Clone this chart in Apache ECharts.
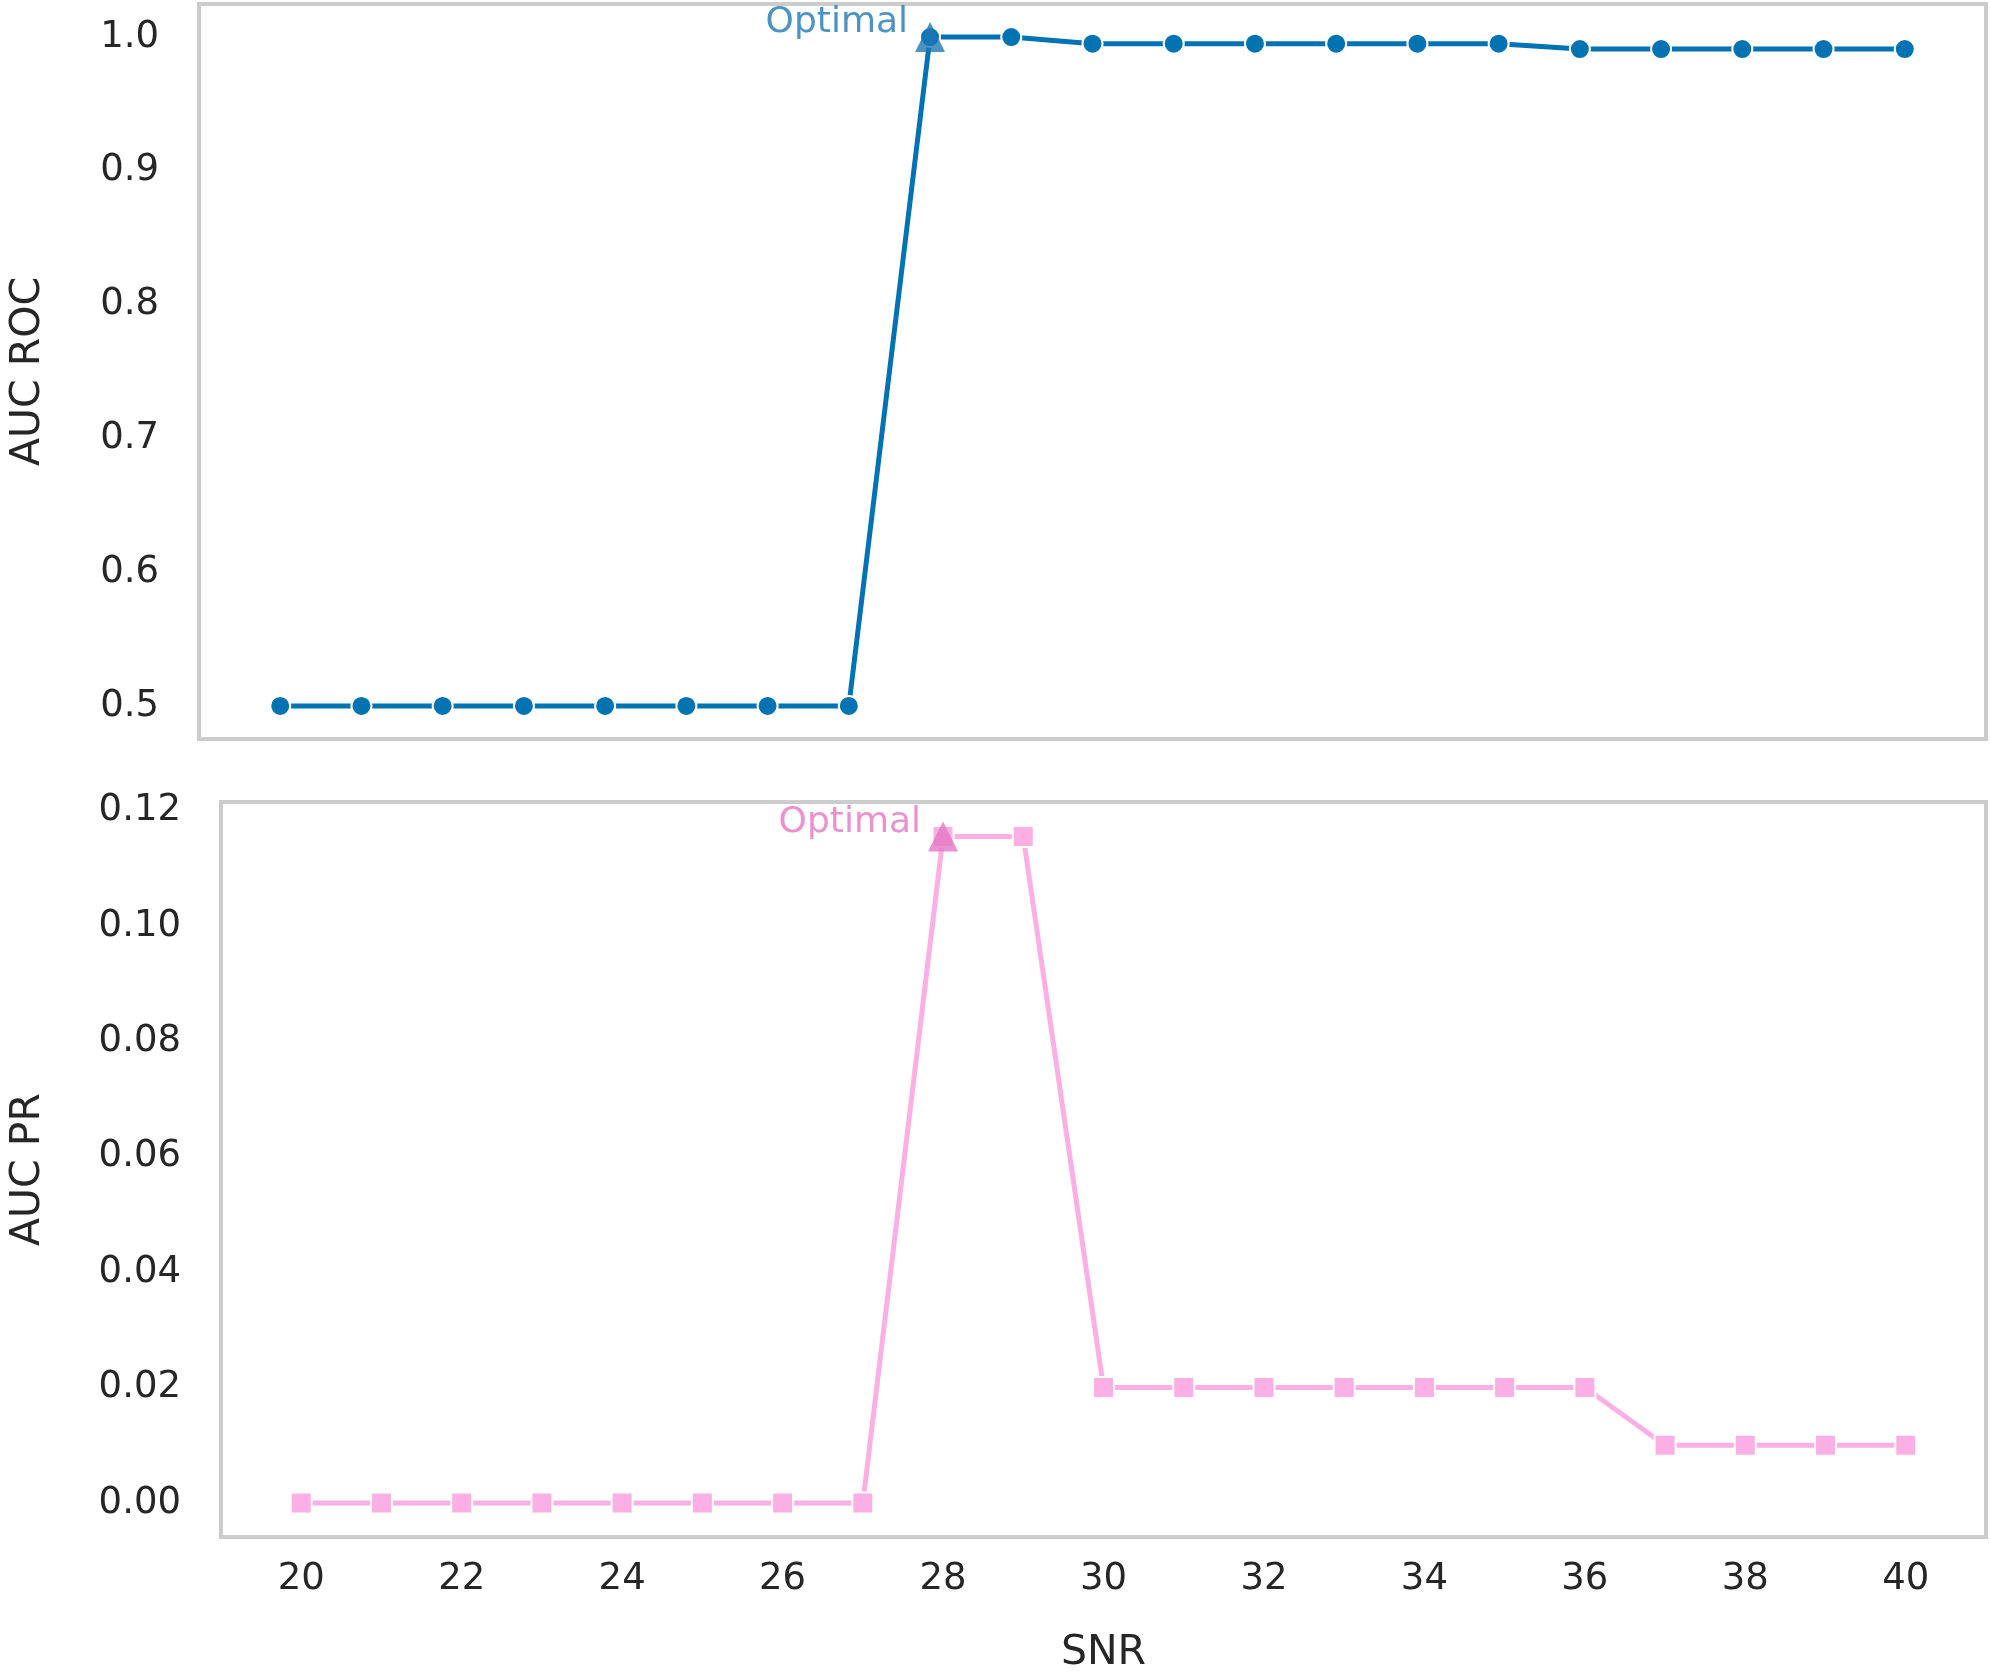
<!DOCTYPE html>
<html>
<head>
<meta charset="utf-8">
<script src="https://cdn.jsdelivr.net/npm/echarts@6/dist/echarts.min.js"></script>
<style>html,body{margin:0;padding:0;background:#fff}#chart{width:1990px;height:1675px}</style>
</head>
<body>
<div id="chart"></div>
<script>
var snr = [20,21,22,23,24,25,26,27,28,29,30,31,32,33,34,35,36,37,38,39,40];
var aucRoc = [0.5,0.5,0.5,0.5,0.5,0.5,0.5,0.5,1.0,1.0,0.995,0.995,0.995,0.995,0.995,0.995,0.991,0.991,0.991,0.991,0.991];
var aucPr = [0,0,0,0,0,0,0,0,0.1155,0.1155,0.02,0.02,0.02,0.02,0.02,0.02,0.02,0.01,0.01,0.01,0.01];
var xTicks = [20,22,24,26,28,30,32,34,36,38,40];
var rocTicks = [0.5,0.6,0.7,0.8,0.9,1.0];
var prTicks = [0,0.02,0.04,0.06,0.08,0.10,0.12];
var optimalIdx = 8;

function pairs(ys) {
    var out = [];
    for (var i = 0; i < snr.length; i++) out.push([snr[i], ys[i]]);
    return out;
}

var font = 'DejaVu Sans';
var chart = echarts.init(document.getElementById('chart'));
var gridBase = {left: 197, width: 1789, show: true, borderColor: '#cccccc', borderWidth: 4, backgroundColor: '#fff'};

function xAxis(idx, showLabels) {
    return {
        type: 'value', gridIndex: idx, min: 19, max: 41,
        axisLine: {show: false}, axisTick: {show: false}, splitLine: {show: false},
        axisLabel: {show: showLabels, customValues: xTicks, fontFamily: font, fontSize: 37, color: '#262626', margin: 24},
        name: showLabels ? 'SNR' : '', nameLocation: 'middle', nameGap: 96,
        nameTextStyle: {fontFamily: font, fontSize: 41, color: '#262626'}
    };
}
function yAxis(idx, min, max, ticks, name, gap, digits) {
    return {
        type: 'value', gridIndex: idx, min: min, max: max,
        axisLine: {show: false}, axisTick: {show: false}, splitLine: {show: false},
        axisLabel: {customValues: ticks, fontFamily: font, fontSize: 37, color: '#262626', margin: 40,
            formatter: function (v) { return v.toFixed(digits); }},
        name: name, nameLocation: 'middle', nameGap: gap,
        nameTextStyle: {fontFamily: font, fontSize: 41, color: '#262626'}
    };
}
function optimal(idx, ys, color) {
    return {
        type: 'scatter', xAxisIndex: idx, yAxisIndex: idx, z: 10,
        symbol: 'triangle', symbolSize: 30,
        itemStyle: {color: color},
        data: [[snr[optimalIdx], ys[optimalIdx]]],
        label: {show: true, formatter: 'Optimal', position: 'left', offset: [-2, -14],
            fontFamily: font, fontSize: 36, color: color}
    };
}

chart.setOption({
    animation: false,
    grid: [
        Object.assign({top: 4, height: 735}, gridBase),
        Object.assign({top: 802, height: 739}, gridBase)
    ],
    xAxis: [xAxis(0, false), xAxis(1, true)],
    yAxis: [
        yAxis(0, 0.4753, 1.0247, rocTicks, 'AUC ROC', 150, 1),
        yAxis(1, -0.0059, 0.1215, prTicks, 'AUC PR', 172, 2)
    ],
    series: [
        {type: 'line', xAxisIndex: 0, yAxisIndex: 0, data: pairs(aucRoc),
            symbol: 'circle', symbolSize: 20, color: '#0173b2',
            lineStyle: {width: 5, color: '#0173b2'}, itemStyle: {color: '#0173b2', borderColor: '#fff', borderWidth: 2}},
        {type: 'line', xAxisIndex: 1, yAxisIndex: 1, data: pairs(aucPr),
            symbol: 'rect', symbolSize: 21, color: '#fbafe4',
            lineStyle: {width: 5, color: '#fbafe4'}, itemStyle: {color: '#fbafe4', borderColor: '#fff', borderWidth: 2}},
        optimal(0, aucRoc, '#1f77b4'),
        optimal(1, aucPr, '#e377c2')
    ]
});
</script>
</body>
</html>
